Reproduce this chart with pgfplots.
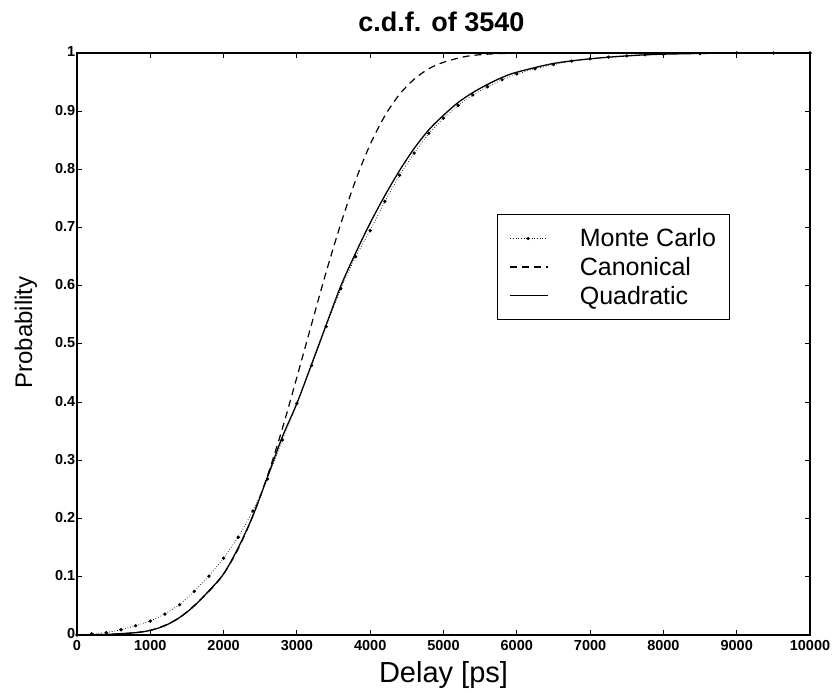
\documentclass[border=0pt]{standalone}
\usepackage{fontspec}
\setmainfont{Liberation Sans}
\usepackage{pgfplots}
\pgfplotsset{compat=1.18}
\begin{document}
\begin{tikzpicture}
\begin{axis}[
  scale only axis,
  width=733bp, height=582bp,
  xmin=0, xmax=10000, ymin=0, ymax=1,
  xtick={0,1000,...,10000},
  xticklabels={0,1000,2000,3000,4000,5000,6000,7000,8000,9000,10000},
  scaled x ticks=false,
  ytick={0,0.1,0.2,0.3,0.4,0.5,0.6,0.7,0.8,0.9,1},
  yticklabels={0,0.1,0.2,0.3,0.4,0.5,0.6,0.7,0.8,0.9,1},
  /pgf/number format/assume math mode=true,
  tick label style={font=\fontsize{14.5bp}{16bp}\selectfont\bfseries, inner sep=1.5bp},
  xticklabel style={yshift=-4bp},
  yticklabel style={yshift=1bp},
  tick align=inside, tick pos=both, major tick length=5bp,
  axis line style={line width=1.2bp},
  every tick/.style={black, line width=1bp},
  title={c.d.f. of 3540},
  title style={font=\fontsize{27bp}{30bp}\selectfont\bfseries, at={(rel axis cs:0.497,1)}, anchor=base, yshift=16bp},
  xlabel={Delay [ps]},
  xlabel style={font=\fontsize{29bp}{32bp}\selectfont, at={(rel axis cs:0.5,0)}, anchor=base, yshift=-47bp},
  ylabel={Probability},
  ylabel style={font=\fontsize{24bp}{28bp}\selectfont, at={(rel axis cs:0,0.52)}, anchor=center, yshift=51bp},
  legend style={at={(rel axis cs:0.573,0.723)}, anchor=north west, draw=black, line width=1bp,
    font=\fontsize{25bp}{29bp}\selectfont, inner xsep=12bp, inner ysep=12bp, row sep=5bp,
    legend cell align=left,
    /tikz/every odd column/.append style={column sep=30bp}},
  legend image code/.code={\draw[mark repeat=2,mark phase=2,#1] plot coordinates {(0bp,0bp) (18bp,0bp) (37bp,0bp)};},
  clip=false,
]
\coordinate (O) at (rel axis cs:0,0);
\addplot[black, line width=0.7bp, dotted, mark=*, mark size=1.3bp, mark options={solid}] coordinates {
(0,0) (200,0.002) (400,0.004) (600,0.009) (800,0.016) (1000,0.024) (1200,0.036) (1400,0.052)
(1600,0.075) (1800,0.101) (2000,0.132) (2200,0.168) (2400,0.213) (2600,0.268) (2800,0.335)
(3000,0.398) (3200,0.463) (3400,0.53) (3600,0.595) (3800,0.65) (4000,0.695) (4200,0.745)
(4400,0.79) (4600,0.828) (4800,0.862) (5000,0.888) (5200,0.91) (5400,0.928) (5600,0.942)
(5800,0.954) (6000,0.964) (6250,0.973) (6500,0.98) (6750,0.986) (7000,0.99) (7250,0.993)
(7500,0.995) (7750,0.997) (8000,0.998) (8500,0.999) (9000,1) (9500,1) (10000,1)};
\addlegendentry{Monte Carlo}
\addplot[black, line width=1.2bp, dash pattern=on 7bp off 5bp, smooth] coordinates {
(0,0) (500,0.0013) (1000,0.008) (1400,0.03) (1800,0.075) (2000,0.105) (2200,0.148)
(2400,0.205) (2600,0.274) (2800,0.354) (3000,0.443) (3200,0.534) (3400,0.624) (3600,0.707)
(3800,0.781) (4000,0.843) (4200,0.892) (4400,0.929) (4600,0.955) (4800,0.973) (5000,0.984)
(5300,0.994) (5600,0.998) (6000,0.9995) (7000,1) (10000,1)};
\addlegendentry{Canonical}
\addplot[black, line width=1.3bp, smooth] coordinates {
(0,0) (400,0.001) (800,0.004) (1000,0.008) (1200,0.016) (1400,0.03) (1600,0.05) (1800,0.076)
(2000,0.105) (2200,0.15) (2400,0.205) (2600,0.272) (2800,0.34) (3000,0.398) (3200,0.465)
(3400,0.533) (3600,0.6) (3800,0.656) (4000,0.708) (4200,0.755) (4400,0.798) (4600,0.836)
(4800,0.868) (5000,0.893) (5200,0.915) (5400,0.932) (5600,0.946) (5800,0.958) (6000,0.967)
(6500,0.982) (7000,0.99) (7500,0.995) (8000,0.998) (9000,1) (10000,1)};
\addlegendentry{Quadratic}
\end{axis}
\path (O) ++(-77bp,-55bp) rectangle ++(840bp,690bp);
\end{tikzpicture}
\end{document}
